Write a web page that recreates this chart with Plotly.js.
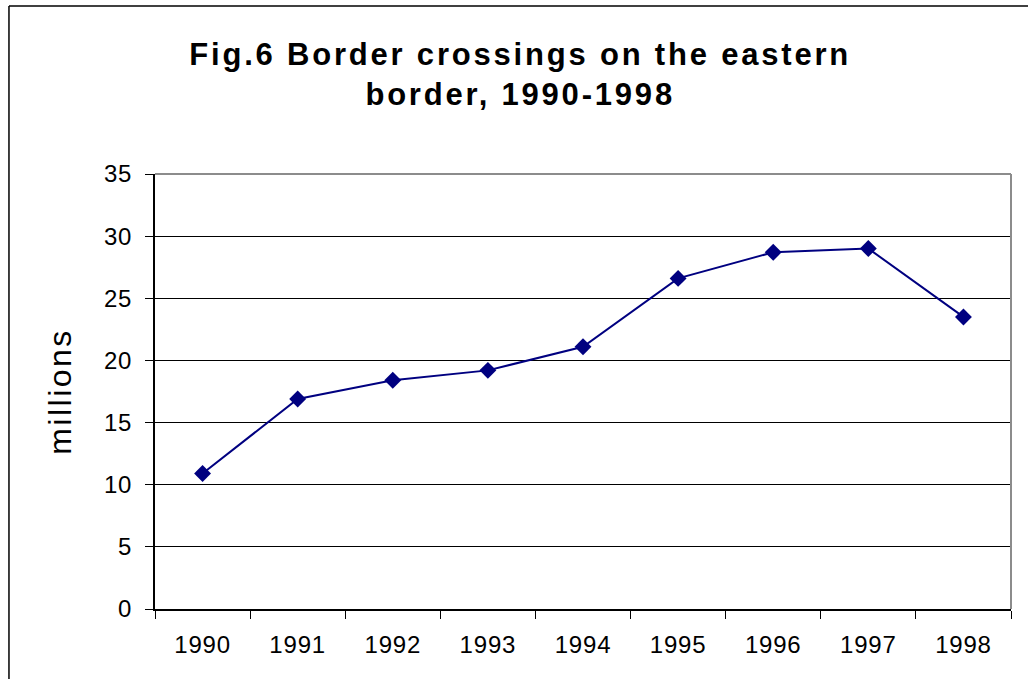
<!DOCTYPE html>
<html>
<head>
<meta charset="utf-8">
<script src="https://cdn.plot.ly/plotly-3.0.1.min.js"></script>
<style>
html,body{margin:0;padding:0;background:#fff;}
#chart{width:1028px;height:679px;}
#chart .gtitle{letter-spacing:2.8px;}
#chart .ytitle{letter-spacing:2.5px;}
#chart .xtick text, #chart .ytick text{letter-spacing:0.8px;}
</style>
</head>
<body>
<div id="chart"></div>
<script>
const years = ['1990','1991','1992','1993','1994','1995','1996','1997','1998'];
const crossings = [10.9, 16.9, 18.4, 19.2, 21.1, 26.6, 28.7, 29.0, 23.5];
const yTicks = [0, 5, 10, 15, 20, 25, 30, 35];

const trace = {
  x: years,
  y: crossings,
  type: 'scatter',
  mode: 'lines+markers',
  line: {color: '#000080', width: 2},
  marker: {symbol: 'diamond', size: 13, color: '#000080'},
  hoverinfo: 'x+y'
};

const layout = {
  width: 1028,
  height: 679,
  paper_bgcolor: '#ffffff',
  plot_bgcolor: '#ffffff',
  margin: {l: 155, r: 17, t: 174, b: 70},
  showlegend: false,
  font: {family: 'Liberation Sans, Arial, sans-serif', color: '#000'},
  title: {
    text: '<b>Fig.6 Border crossings on the eastern<br>border, 1990-1998</b>',
    font: {size: 31, family: 'Liberation Sans, Arial, sans-serif', color: '#000'},
    x: 0.506, xref: 'container', xanchor: 'center',
    y: 0.905, yref: 'container', yanchor: 'middle'
  },
  xaxis: {
    type: 'category',
    categoryorder: 'array',
    categoryarray: years,
    tickson: 'boundaries',
    ticks: 'outside',
    ticklen: 8,
    tickwidth: 1,
    tickcolor: '#000',
    showline: true,
    linecolor: '#000',
    linewidth: 2,
    showgrid: false,
    tickfont: {size: 24, color: '#000'},
    ticklabelstandoff: 13,
    range: [-0.5, 8.5],
    fixedrange: true
  },
  yaxis: {
    range: [0, 35],
    tickvals: yTicks,
    ticks: 'outside',
    ticklen: 8,
    tickcolor: '#000',
    showline: true,
    linecolor: '#000',
    linewidth: 2,
    showgrid: true,
    gridcolor: '#000',
    gridwidth: 1,
    zeroline: false,
    tickfont: {size: 24, color: '#000'},
    ticklabelstandoff: 8,
    title: {text: 'millions', font: {size: 32, color: '#000'}, standoff: 24},
    fixedrange: true
  },
  shapes: [
    {type: 'line', xref: 'paper', yref: 'paper', x0: 0, x1: 1, y0: 1, y1: 1,
     line: {color: '#8c8c8c', width: 2}, layer: 'above'},
    {type: 'line', xref: 'paper', yref: 'paper', x0: 1, x1: 1, y0: 0, y1: 1,
     line: {color: '#8c8c8c', width: 2}, layer: 'above'},
    {type: 'line', xref: 'paper', yref: 'paper', x0: -0.1706, x1: 1.1, y0: 1.386, y1: 1.386,
     line: {color: '#000', width: 1.5}, layer: 'above'},
    {type: 'line', xref: 'paper', yref: 'paper', x0: -0.1706, x1: -0.1706, y0: -0.3, y1: 1.386,
     line: {color: '#000', width: 1.5}, layer: 'above'}
  ]
};

Plotly.newPlot('chart', [trace], layout, {displayModeBar: false});
</script>
</body>
</html>
